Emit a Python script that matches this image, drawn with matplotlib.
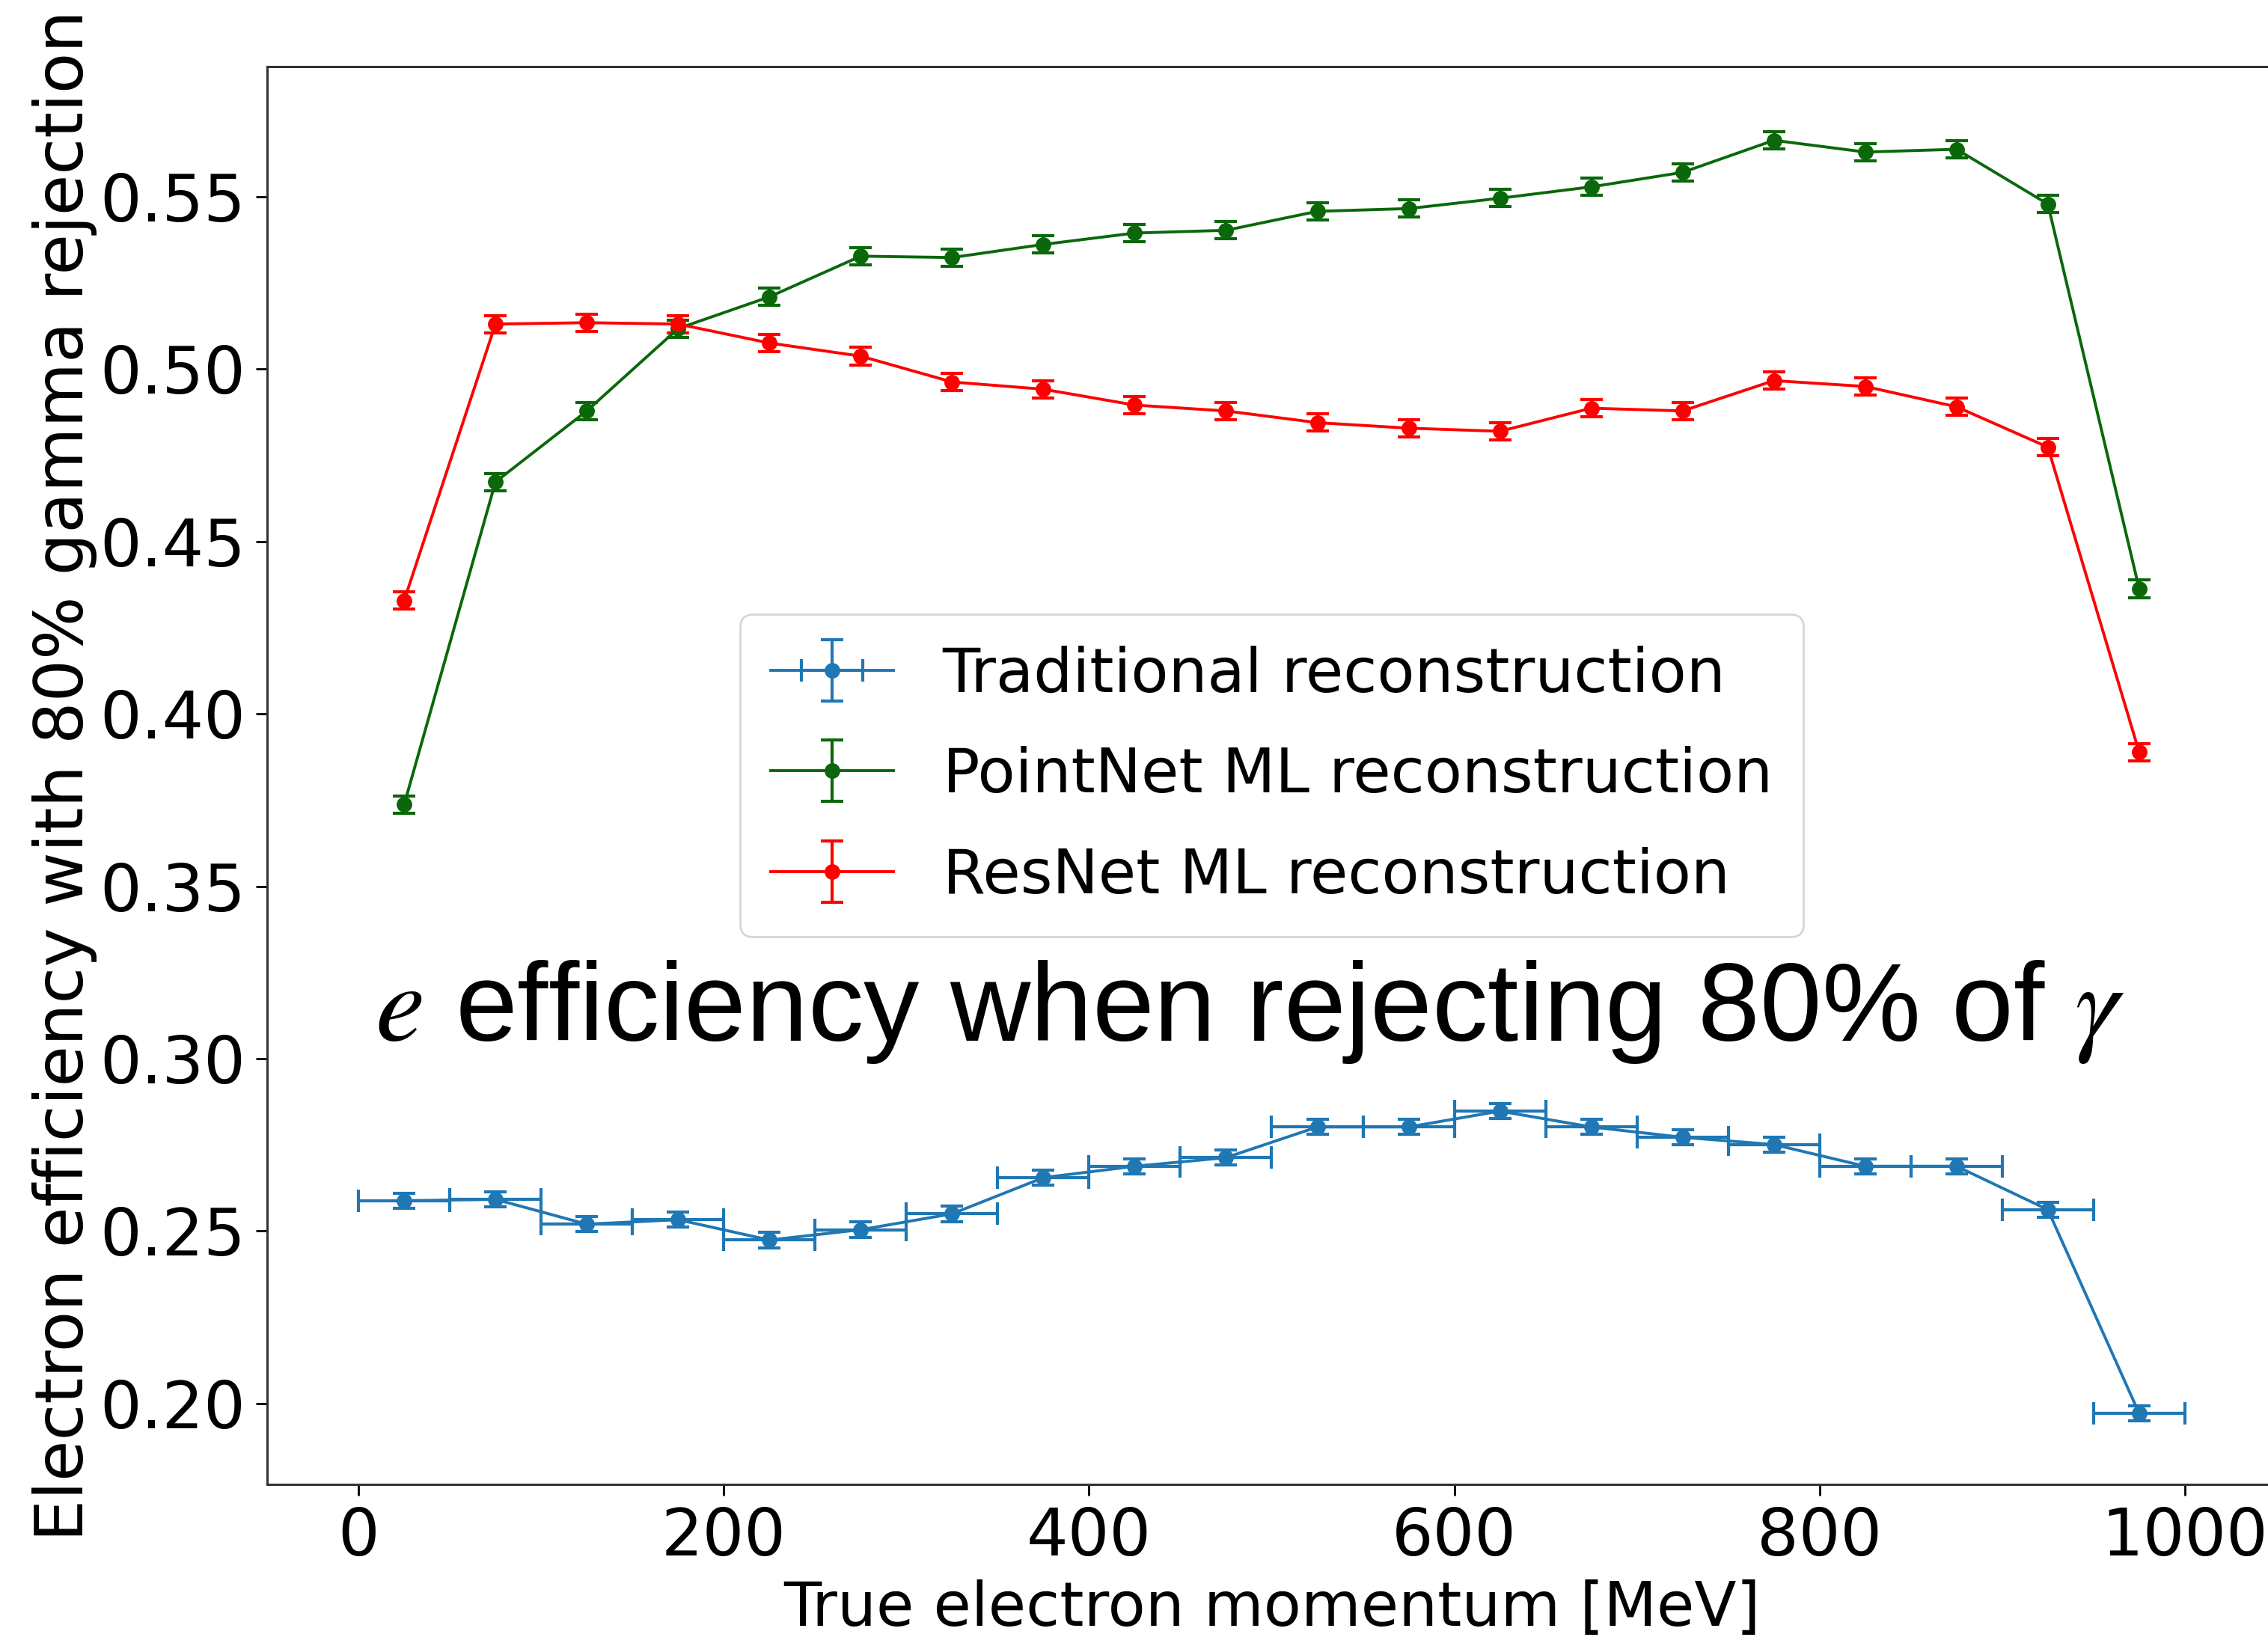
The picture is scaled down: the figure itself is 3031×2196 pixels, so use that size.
import matplotlib
matplotlib.use("Agg")
import matplotlib.pyplot as plt
import numpy as np

# Bin centres (MeV) and half-widths
momentum = [25, 75, 125, 175, 225, 275, 325, 375, 425, 475,
            525, 575, 625, 675, 725, 775, 825, 875, 925, 975]
bin_halfwidth = [25] * 20

traditional = [0.2588, 0.2592, 0.2520, 0.2533, 0.2474, 0.2504, 0.2550, 0.2655, 0.2688, 0.2713,
               0.2802, 0.2802, 0.2848, 0.2802, 0.2772, 0.2751, 0.2688, 0.2688, 0.2562, 0.1971]
traditional_err = [0.0022] * 20

pointnet = [0.3737, 0.4673, 0.4879, 0.5118, 0.5210, 0.5328, 0.5324, 0.5362, 0.5395, 0.5403,
            0.5458, 0.5466, 0.5496, 0.5529, 0.5571, 0.5664, 0.5630, 0.5638, 0.5479, 0.4363]
pointnet_err = [0.0025] * 20

resnet = [0.4329, 0.5131, 0.5135, 0.5131, 0.5076, 0.5038, 0.4963, 0.4942, 0.4896, 0.4879,
          0.4845, 0.4829, 0.4820, 0.4887, 0.4879, 0.4967, 0.4950, 0.4891, 0.4774, 0.3889]
resnet_err = [0.0025] * 20

labels = ["Traditional reconstruction", "PointNet ML reconstruction", "ResNet ML reconstruction"]
xticks = [0, 200, 400, 600, 800, 1000]
yticks = [0.20, 0.25, 0.30, 0.35, 0.40, 0.45, 0.50, 0.55]

fig = plt.figure(figsize=(30.31, 21.96), dpi=100)
ax = fig.add_axes([0.1178, 0.0965, 0.8858, 0.863])

common = dict(fmt='-o', markersize=14, lw=2.8, elinewidth=3.0, capsize=11, capthick=3.0)
ax.errorbar(momentum, traditional, yerr=traditional_err, xerr=bin_halfwidth,
            color='#1f77b4', label=labels[0], **common)
ax.errorbar(momentum, pointnet, yerr=pointnet_err, color='#0a680a', label=labels[1], **common)
ax.errorbar(momentum, resnet, yerr=resnet_err, color='#ff0000', label=labels[2], **common)

ax.set_xlim(-50, 1050)
ax.set_ylim(0.1765, 0.5878)
ax.set_xticks(xticks)
ax.set_yticks(yticks)
ax.set_yticklabels([f"{v:.2f}" for v in yticks])
ax.tick_params(labelsize=63, length=11, width=2, direction='out', pad=10)
for s in ax.spines.values():
    s.set_linewidth(2.2)
    s.set_color('#333333')

ax.set_xlabel("True electron momentum [MeV]", fontsize=59)
ax.xaxis.label.set_va('center')
ax.xaxis.set_label_coords(0.5, -0.0876)
ax.set_ylabel("Electron efficiency with 80% gamma rejection", fontsize=64)
ax.yaxis.label.set_va('center')
ax.yaxis.set_label_coords(-0.1006, 0.5)

leg = ax.legend(loc='center', fontsize=59, handlelength=2.0, borderpad=0.5,
                labelspacing=0.68, handletextpad=0.8, framealpha=0.8)
leg.get_frame().set_linewidth(2)

fig.text(0.551, 0.384, r"$e$ efficiency when rejecting 80% of $\gamma$",
         fontsize=107, family='Liberation Sans', math_fontfamily='stix',
         ha='center', va='center', color='black')

fig.savefig("out.png", dpi=100)
